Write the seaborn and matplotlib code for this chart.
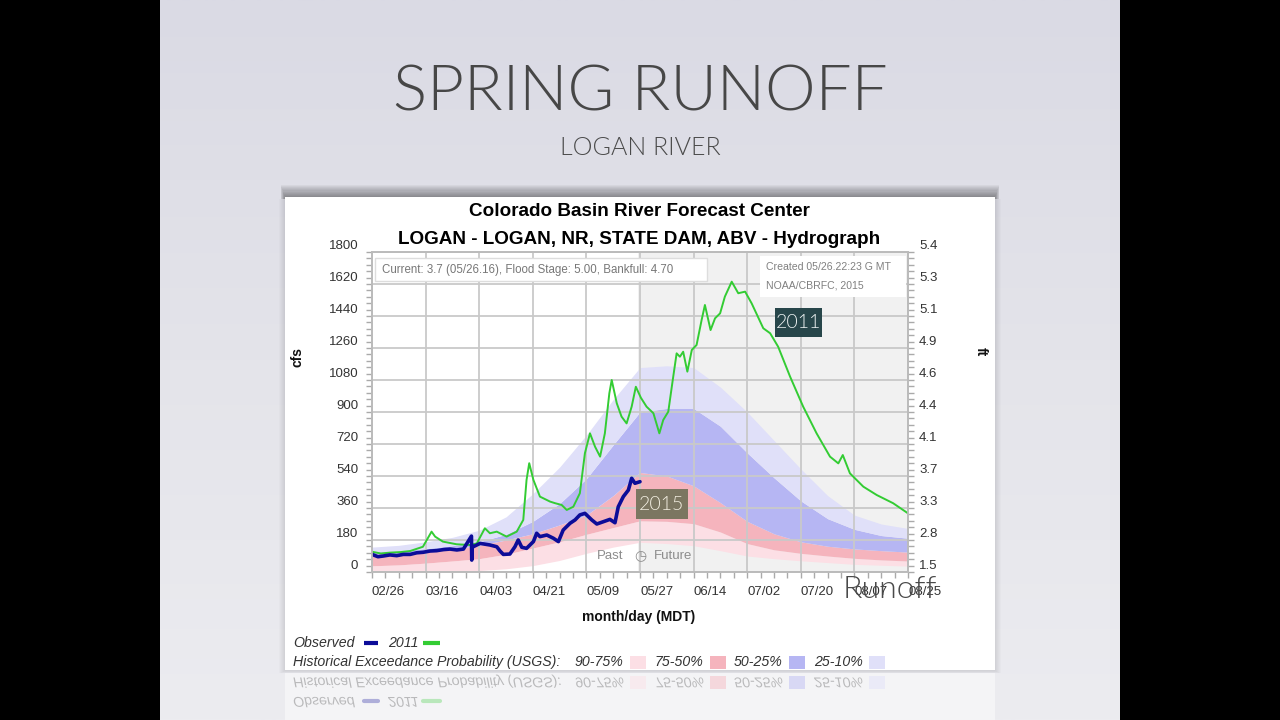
import numpy as np
import matplotlib
matplotlib.use("Agg")
import matplotlib.pyplot as plt
import seaborn as sns
from matplotlib.patches import Rectangle, PathPatch
from matplotlib.colors import LinearSegmentedColormap
from matplotlib.ticker import MultipleLocator
from matplotlib.textpath import TextPath
from matplotlib.font_manager import FontProperties
from matplotlib.transforms import Affine2D

# ---------------------------------------------------------------------------
# data (days counted from 02/26, flow in cfs)
# ---------------------------------------------------------------------------
tick_days = [0, 18, 36, 54, 72, 90, 108, 126, 144, 162, 180]
tick_labels = ["02/26", "03/16", "04/03", "04/21", "05/09", "05/27",
               "06/14", "07/02", "07/20", "08/07", "08/25"]
cfs_ticks = [0, 180, 360, 540, 720, 900, 1080, 1260, 1440, 1620, 1800]
ft_labels = ["1.5", "2.8", "3.3", "3.7", "4.1", "4.4", "4.6", "4.9", "5.1", "5.3", "5.4"]

band_day = [0, 9, 18, 27, 36, 45, 54, 63, 72, 81, 90, 99, 108, 117, 126, 135, 144, 153, 162, 171, 180]
p90 = [5, 5, 5, 6, 8, 18, 36, 65, 105, 140, 167, 160, 148, 120, 90, 75, 63, 53, 43, 38, 33]
p75 = [35, 40, 50, 62, 75, 100, 135, 170, 212, 250, 288, 285, 272, 225, 160, 125, 105, 90, 77, 68, 62]
p50 = [100, 105, 115, 130, 150, 180, 215, 265, 320, 430, 560, 540, 485, 390, 285, 215, 170, 145, 130, 120, 112]
p25 = [112, 118, 132, 148, 170, 212, 285, 385, 525, 715, 900, 920, 920, 820, 670, 530, 400, 300, 240, 205, 190]
p10 = [140, 150, 170, 195, 235, 310, 440, 590, 770, 970, 1150, 1160, 1150, 1040, 900, 740, 580, 430, 320, 270, 245]

green_day = [0, 3.0, 6.0, 9.5, 12.8, 17.1, 20.0, 21.2, 23.8, 28.4, 32.9, 35.2, 37.9, 39.6, 41.9, 45.2,
             48.6, 50.8, 51.9, 52.8, 54.2, 56.4, 59.8, 61.5, 63.7, 65.4, 67.6, 69.8, 71.5,
             73.2, 74.9, 76.6, 78.2, 79.7, 80.5, 82.2, 83.8, 85.5, 87.2, 88.6, 90.3, 92.2,
             94.5, 96.5, 97.8, 99.5, 101.0, 102.3, 103.4, 104.5, 105.9, 107.4, 109.0, 110.7,
             111.8, 113.7, 115.2, 116.9, 118.5, 120.8, 123.0, 125.3, 127.5, 131.4, 133.7,
             136.4, 140.4, 144.8, 149.3, 153.8, 156.6, 158.1, 160.5, 165.0, 169.5, 175.0, 180]
green_cfs = [114, 104, 109, 112, 118, 142, 227, 199, 171, 156, 152, 161, 246, 218, 227, 199,
             227, 293, 518, 612, 518, 424, 396, 387, 377, 349, 367, 443, 668,
             780, 705, 649, 780, 1005, 1080, 949, 874, 836, 930, 1042, 980, 930,
             893, 780, 855, 902, 1080, 1230, 1211, 1239, 1127, 1249, 1277, 1418,
             1502, 1361, 1427, 1455, 1549, 1633, 1568, 1577, 1511, 1371, 1343,
             1267, 1099, 930, 780, 649, 611, 658, 555, 480, 433, 387, 330]

obs_day = [0, 2.0, 3.8, 6.0, 8.3, 10.5, 12.8, 15.0, 17.2, 19.5, 21.7, 24.0, 26.2, 28.5, 30.7,
           33.4, 33.5, 33.6, 36.3, 39.6, 41.9, 43.0,
           44.1, 46.3, 48.0, 49.1, 50.3, 51.9, 54.2, 55.3, 56.4, 58.7, 60.9, 62.6, 64.2,
           66.5, 68.2, 69.8, 71.5, 73.8, 75.5, 77.7, 79.9, 81.6, 82.7, 84.4, 86.1, 87.2,
           88.3, 90.0]
obs_cfs = [99, 86, 90, 96, 92, 99, 99, 108, 111, 118, 120, 126, 129, 124, 129,
           202, 67, 139, 161, 152, 142, 118,
           99, 101, 142, 180, 139, 133, 171, 218, 199, 208, 190, 171, 236,
           274, 293, 321, 330, 293, 270, 283, 296, 277, 367, 424, 461, 527,
           499, 508]

band_labels = ["90-75%", "75-50%", "50-25%", "25-10%"]
band_colors = ["#fcdfe5", "#f5b4bd", "#b6b6f3", "#e0e0f9"]
obs_color = "#0c0c98"
green_color = "#33cc33"

# ---------------------------------------------------------------------------
sns.set_theme(style="white")
plt.rcParams["font.family"] = ["Liberation Sans", "DejaVu Sans"]

fig = plt.figure(figsize=(12.8, 7.2), dpi=100)
fig.patch.set_facecolor("black")

# slide background, drawn in pixel coordinates
bg = fig.add_axes([0, 0, 1, 1])
bg.axis("off")
grad = np.linspace(0, 1, 256).reshape(-1, 1)
slide_cmap = LinearSegmentedColormap.from_list("slide", ["#dadae4", "#e4e4ea", "#ececf0"])
bg.imshow(grad, extent=(160, 1120, 720, 0), aspect="auto", cmap=slide_cmap, zorder=0)
bg.set_xlim(0, 1280)
bg.set_ylim(720, 0)

# drop shadow: strong along the top edge, faint on the sides
for i in range(1, 12):
    bg.add_patch(Rectangle((285 - 0.4 * i, 197 - 1.1 * i), 710 + 0.8 * i, 1.1 * i + 2,
                           fc="black", ec="none", alpha=0.04, zorder=1))
for i in range(1, 7):
    bg.add_patch(Rectangle((285 - i, 199), 710 + 2 * i, 472 + 0.4 * i,
                           fc="black", ec="none", alpha=0.015, zorder=1))
bg.add_patch(Rectangle((285, 197), 710, 473, fc="white", ec="none", zorder=2))
bg.add_patch(Rectangle((285, 673), 710, 47, fc="white", ec="none", alpha=0.45, zorder=2))

bg.text(640, 93, "SPRING RUNOFF", ha="center", va="center", fontsize=46,
        family="Lato", weight=300, color="#474747", zorder=3)
bg.text(640, 148, "LOGAN RIVER", ha="center", va="center", fontsize=18,
        family="Lato", weight=300, color="#4a4a4a", zorder=3)

bg.text(639, 212, "Colorado Basin River Forecast Center", ha="center", va="center",
        fontsize=13.6, weight="bold", color="black", zorder=3)
bg.text(639, 240, "LOGAN - LOGAN, NR, STATE DAM, ABV - Hydrograph", ha="center",
        va="center", fontsize=13.6, weight="bold", color="black", zorder=3)
bg.text(298, 357, "cfs", rotation=90, ha="center", va="center", fontsize=10,
        weight="bold", color="#111", zorder=3)
bg.text(981, 352, "ft", rotation=270, ha="center", va="center", fontsize=10,
        weight="bold", color="#111", zorder=3)
bg.text(639, 617, "month/day (MDT)", ha="center", va="center", fontsize=10,
        weight="bold", color="#111", zorder=3)

# legend block under the chart
leg_font = dict(style="italic", fontsize=10.2, color="#333333", va="center", zorder=3)
bg.text(293, 643, "Observed", **leg_font)
bg.plot([364, 378], [643, 643], color=obs_color, lw=3, solid_capstyle="butt", zorder=3)
bg.text(388, 643, "2011", **leg_font)
bg.plot([423, 440], [643, 643], color=green_color, lw=3, solid_capstyle="butt", zorder=3)
bg.text(293, 662, "Historical Exceedance Probability (USGS):", **leg_font)
label_x = [575, 655, 734, 814]
for lx, lab, col in zip(label_x, band_labels, band_colors):
    bg.text(lx, 662, lab, **leg_font)
    bg.add_patch(Rectangle((lx + 55, 656), 16, 13, fc=col, ec="none", zorder=3))

# faded reflection of the legend
def mirror_text(x, base, s, color="#333333", alpha=0.3):
    tp = TextPath((0, 0), s, size=14.2,
                  prop=FontProperties(family="Liberation Sans", style="italic"))
    bg.add_patch(PathPatch(tp, transform=Affine2D().translate(x, base) + bg.transData,
                           fc=color, ec="none", alpha=alpha, zorder=3))

mirror_text(293, 677.5, "Historical Exceedance Probability (USGS):")
for lx, lab, col in zip(label_x, band_labels, band_colors):
    mirror_text(lx, 677.5, lab)
    bg.add_patch(Rectangle((lx + 55, 676), 16, 13, fc=col, ec="none", alpha=0.45, zorder=3))
mirror_text(293, 697, "Observed")
bg.plot([364, 378], [701, 701], color=obs_color, lw=3, alpha=0.3, zorder=3)
mirror_text(388, 697, "2011")
bg.plot([423, 440], [701, 701], color=green_color, lw=3, alpha=0.3, zorder=3)

# ---------------------------------------------------------------------------
# hydrograph
# ---------------------------------------------------------------------------
ax = fig.add_axes([372 / 1280, 1 - 572 / 720, 536 / 1280, 320 / 720])
ax.set_zorder(4)
ax.set_facecolor("white")
ax.axvspan(89.2, 180, color="#f1f1f1", lw=0, zorder=0.2)

bounds = [p90, p75, p50, p25, p10]
for k in range(4):
    ax.fill_between(band_day, bounds[k], bounds[k + 1], color=band_colors[k], lw=0, zorder=0.8)

sns.lineplot(x=green_day, y=green_cfs, ax=ax, color=green_color, lw=1.4,
             sort=False, estimator=None, zorder=3)
sns.lineplot(x=obs_day, y=obs_cfs, ax=ax, color=obs_color, lw=2.6,
             sort=False, estimator=None, zorder=4)

ax.set_xlim(0, 180)
ax.set_ylim(0, 1800)
ax.set_xticks(tick_days)
ax.set_xticklabels(tick_labels, ha="left", fontsize=9.5, color="#333333")
ax.set_yticks(cfs_ticks)
ax.set_yticklabels([str(v) for v in cfs_ticks], va="bottom", fontsize=9.5, color="#333333")
ax.xaxis.set_minor_locator(MultipleLocator(4.5))
ax.yaxis.set_minor_locator(MultipleLocator(36))
ax.set_axisbelow("line")
ax.grid(True, which="major", color="#c9c9c9", lw=1.3)
ax.tick_params(which="both", bottom=True, left=True, direction="out",
               length=4, width=1, color="#aaaaaa")
ax.tick_params(axis="x", pad=6)
ax.tick_params(axis="y", pad=6)
for sp in ax.spines.values():
    sp.set_color("#bbbbbb")
ax.set_xlabel("")
ax.set_ylabel("")

ax2 = ax.twinx()
ax2.set_ylim(0, 1800)
ax2.set_yticks(cfs_ticks)
ax2.set_yticklabels(ft_labels, va="bottom", fontsize=9.5, color="#333333")
ax2.yaxis.set_minor_locator(MultipleLocator(36))
ax2.grid(False)
ax2.tick_params(which="both", right=True, direction="out", length=4, width=1,
                color="#aaaaaa", pad=4)
for sp in ax2.spines.values():
    sp.set_color("#bbbbbb")

# ---------------------------------------------------------------------------
# overlays (chart notes and slide labels)
# ---------------------------------------------------------------------------
top = fig.add_axes([0, 0, 1, 1])
top.set_zorder(6)
top.patch.set_alpha(0)
top.axis("off")
top.set_xlim(0, 1280)
top.set_ylim(720, 0)

top.add_patch(Rectangle((375, 258), 332, 23, fc="white", ec="#dddddd", lw=1))
top.text(382, 269.5, "Current: 3.7 (05/26.16), Flood Stage: 5.00, Bankfull: 4.70",
         fontsize=8.3, color="#777777", va="center")
top.add_patch(Rectangle((760, 256), 146, 41, fc="white", ec="none"))
top.text(766, 267, "Created 05/26.22:23 G MT", fontsize=7.6, color="#808080", va="center")
top.text(766, 285, "NOAA/CBRFC, 2015", fontsize=7.6, color="#808080", va="center")

top.text(623, 556, "Past", ha="right", va="center", fontsize=9.5, color="#8c8c8c")
top.text(640, 556, "\u25f7", ha="center", va="center", fontsize=10, color="#8c8c8c",
         family=["DejaVu Sans"])
top.text(654, 556, "Future", ha="left", va="center", fontsize=9.5, color="#8c8c8c")

top.add_patch(Rectangle((775, 308), 47, 29, fc="#27464a", ec="none"))
top.text(798.5, 323, "2011", ha="center", va="center", fontsize=14,
         family="Lato", weight=300, color="#eef3f3")
top.add_patch(Rectangle((636, 489), 52, 30, fc="#7b7661", ec="none"))
top.text(662, 504, "2015", ha="center", va="center", fontsize=14,
         family="Lato", weight=300, color="#f3efe2")

top.text(890, 589, "Runoff", ha="center", va="center", fontsize=23,
         family="Lato", weight=300, color="#4a4a4a")

fig.savefig("out.png", dpi=100, facecolor=fig.get_facecolor())
